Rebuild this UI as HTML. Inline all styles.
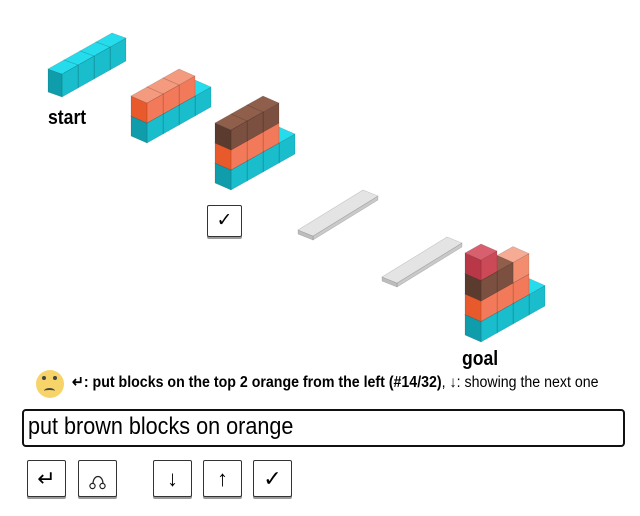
<!DOCTYPE html>
<html><head><meta charset="utf-8"><style>
body{margin:0;width:640px;height:516px;background:#fff;position:relative;overflow:hidden;font-family:"Liberation Sans",sans-serif}
svg{position:absolute;left:0;top:0}
.lbl{position:absolute;font-weight:bold;font-size:20px;transform:scaleX(0.88);transform-origin:left top}
.btn{position:absolute;top:460px;width:37px;height:35px;border:1px solid #333;border-radius:2px;box-shadow:0 2px 0 #999;background:#fff;text-align:center;line-height:35px;font-size:22px}
</style></head><body>
<svg id="s" width="640" height="516"></svg>
<div class="lbl" style="left:48px;top:107px">start</div>
<div class="lbl" style="left:462px;top:348px">goal</div>
<div style="position:absolute;left:207px;top:205px;width:33px;height:30px;border:1px solid #333;border-radius:2px;box-shadow:0 2px 0 #999;text-align:center;line-height:30px;font-size:19px">✓</div>
<div style="position:absolute;left:36px;top:370px;width:28px;height:28px;border-radius:50%;background:#f7d46a"></div>
<div style="position:absolute;left:42px;top:376px;width:4px;height:4px;border-radius:50%;background:#444"></div>
<div style="position:absolute;left:53px;top:376px;width:4px;height:4px;border-radius:50%;background:#444"></div>
<div style="position:absolute;left:44px;top:388px;width:11px;height:4px;border-top:2px solid #444;border-radius:50% 50% 0 0"></div>
<div style="position:absolute;left:72px;top:373px;white-space:nowrap;font-size:15.5px;transform:scaleX(0.915);transform-origin:left top"><b>↵: put blocks on the top 2 orange from the left (#14/32)</b>, ↓: showing the next one</div>
<div style="position:absolute;left:22px;top:409px;width:599px;height:34px;border:2px solid #111;border-radius:4px"></div>
<div style="position:absolute;left:28px;top:413px;font-size:24px;white-space:nowrap;transform:scaleX(0.9);transform-origin:left top">put brown blocks on orange</div>
<div class="btn" style="left:27px">↵</div>
<div class="btn" style="left:78px"><svg width="37" height="35" style="position:relative"><path d="M14 23 C14 13 24 13 24 23" fill="none" stroke="#222" stroke-width="1.3"/><circle cx="13.5" cy="25" r="2.6" fill="none" stroke="#222" stroke-width="1.2"/><circle cx="23.5" cy="25" r="2.6" fill="none" stroke="#222" stroke-width="1.2"/></svg></div>
<div class="btn" style="left:153px">↓</div>
<div class="btn" style="left:203px">↑</div>
<div class="btn" style="left:253px">✓</div>
<script>
var C={t:["#25dced","#19bdcc","#0f9dac"],o:["#f49a7e","#f27a5a","#e85a2b"],l:["#f6ab95","#f28d70","#ee6e46"],b:["#8f5f4c","#7b5040","#5c3b2f"],r:["#d8606e","#cc4a58","#b93848"]};
var s=document.getElementById('s'),h='';
function P(pts,f){h+='<polygon points="'+pts.map(function(p){return p[0].toFixed(1)+','+p[1].toFixed(1)}).join(' ')+'" fill="'+f+'" stroke="rgba(0,0,0,0.18)" stroke-width="0.6"/>';}
function stack(N,a,b,H,cols){
 function pt(u,v,w){return [N[0]+u*a[0]+v*b[0], N[1]+u*a[1]+v*b[1]-w*H];}
 for(var c=cols.length-1;c>=0;c--){var col=cols[c];for(var L=0;L<col.length;L++){
  var k=C[col[L]],u=c,w=L;
  P([pt(u,0,w),pt(u+1,0,w),pt(u+1,0,w+1),pt(u,0,w+1)],k[1]);
  P([pt(u,0,w),pt(u,1,w),pt(u,1,w+1),pt(u,0,w+1)],k[2]);
  P([pt(u,0,w+1),pt(u+1,0,w+1),pt(u+1,1,w+1),pt(u,1,w+1)],k[0]);
 }}}
function slab(N,a,b,t){var A=[N[0]+a[0],N[1]+a[1]],B=[N[0]+b[0],N[1]+b[1]];
 P([N,A,[A[0],A[1]-t],[N[0],N[1]-t]],"#c9c9c9");P([N,B,[B[0],B[1]-t],[N[0],N[1]-t]],"#bdbdbd");
 P([[N[0],N[1]-t],[A[0],A[1]-t],[A[0]+b[0],A[1]+b[1]-t],[B[0],B[1]-t]],"#e4e4e4");}
stack([62,97],[16,-9],[-14,-5],23,[["t"],["t"],["t"],["t"]]);
stack([147,143],[16,-9],[-16,-7],20,[["t","o"],["t","o"],["t","o"],["t"]]);
stack([231,190],[16,-9],[-16,-7],20,[["t","o","b"],["t","o","b"],["t","o","b"],["t"]]);
stack([481,342],[16,-9],[-16,-7],20.5,[["t","o","b","r"],["t","o","b"],["t","o","l"],["t"]]);
slab([313,240],[65,-40],[-15,-6],4);
slab([397,287],[65,-40],[-15,-6],4);
s.innerHTML=h;
</script>
</body></html>
